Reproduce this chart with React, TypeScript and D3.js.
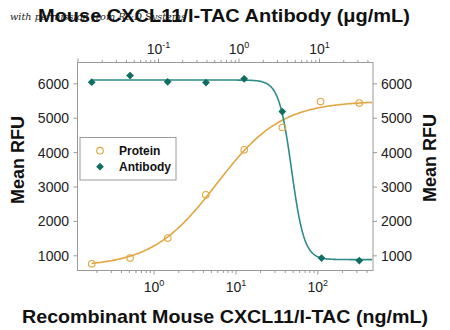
import React from "react";
import * as d3 from "d3";

// ---- data ----
const proteinConc = [0.173, 0.509, 1.47, 4.28, 12.6, 36.9, 108, 321]; // ng/mL
const proteinRFU = [767, 933, 1515, 2773, 4081, 4730, 5485, 5439];
const antibodyConc = [0.0148, 0.0443, 0.13, 0.389, 1.16, 3.45, 10.6, 31.2]; // µg/mL
const antibodyRFU = [6049, 6241, 6058, 6038, 6145, 5195, 933, 863];
// 4PL fit parameters (low = low-conc asymptote)
const proteinFit = { low: 680, high: 5500, ec50: 5.8, hill: 1.1 };
const antibodyFit = { low: 6110, high: 890, ec50: 4.5, hill: 5.5 };
const yTicks = [1000, 2000, 3000, 4000, 5000, 6000];
const bottomMajor = [0, 1, 2];
const topMajor = [-1, 0, 1];

const W = 450, H = 330;
const L = 77.5, R = 373, T = 62.5, B = 270.5;
const FONT = "Liberation Sans, Arial, sans-serif";
const ORANGE = "#E2A640";
const TEAL_LINE = "#2E8C88";
const TEAL_MARK = "#0F6E62";
const GRAY = "#9a9a9a";

function fourPL(p: { low: number; high: number; ec50: number; hill: number }, x: number) {
  return p.low + (p.high - p.low) / (1 + Math.pow(p.ec50 / x, p.hill));
}

function minorTicks(scale: d3.ScaleLogarithmic<number, number>) {
  const [a, b] = scale.domain();
  const out: number[] = [];
  for (let e = Math.floor(Math.log10(a)); e <= Math.ceil(Math.log10(b)); e++) {
    for (let m = 1; m <= 9; m++) {
      const v = m * Math.pow(10, e);
      if (v >= a && v <= b) out.push(v);
    }
  }
  return out;
}

export default function App() {
  const y = d3.scaleLinear().domain([573, 6620]).range([B, T]);
  const xb = d3.scaleLog().domain([0.116, 472]).range([L, R]);
  const xt = d3.scaleLog().domain([0.00986, 46.2]).range([L, R]);

  const pStart = xb(proteinConc[0]);
  const pCurveX = d3.range(0, 201).map((i) => xb.invert(pStart + ((R - 1 - pStart) * i) / 200));
  const pLine = d3
    .line<number>()
    .x((v) => xb(v))
    .y((v) => y(fourPL(proteinFit, v)))(pCurveX);
  const aStart = xt(antibodyConc[0]);
  const aCurveX = d3.range(0, 401).map((i) => xt.invert(aStart + ((R - 1 - aStart) * i) / 400));
  const aLine = d3
    .line<number>()
    .x((v) => xt(v))
    .y((v) => y(fourPL(antibodyFit, v)))(aCurveX);

  const diamond = d3.symbol().type(d3.symbolSquare).size(30)()!;

  const bMinor = minorTicks(xb);
  const tMinor = minorTicks(xt);

  return (
    <svg width={W} height={H} style={{ position: "absolute", left: 0, top: 0, background: "#fff" }}>
      <rect width={W} height={H} fill="#fff" />
      {/* watermark */}
      <text x={10} y={20} fontFamily="DejaVu Serif, serif" fontStyle="italic" fontSize={10}
        fill="#222" textLength={176} lengthAdjust="spacingAndGlyphs">
        with permission from R&amp;D Systems
      </text>
      {/* top title */}
      <text x={224} y={22} textAnchor="middle" fontFamily={FONT} fontWeight="bold" fontSize={19}
        fill="#111" textLength={372} lengthAdjust="spacingAndGlyphs">
        Mouse CXCL11/I-TAC Antibody (μg/mL)
      </text>
      {/* bottom title */}
      <text x={225} y={323} textAnchor="middle" fontFamily={FONT} fontWeight="bold" fontSize={18.5}
        fill="#111" textLength={406} lengthAdjust="spacingAndGlyphs">
        Recombinant Mouse CXCL11/I-TAC (ng/mL)
      </text>
      {/* y titles */}
      <text transform={`translate(24,160) rotate(-90)`} textAnchor="middle" fontFamily={FONT}
        fontWeight="bold" fontSize={18} fill="#111">
        Mean RFU
      </text>
      <text transform={`translate(436,158) rotate(-90)`} textAnchor="middle" fontFamily={FONT}
        fontWeight="bold" fontSize={18} fill="#111">
        Mean RFU
      </text>

      {/* frame */}
      <rect x={L} y={T} width={R - L} height={B - T} fill="none" stroke={GRAY} strokeWidth={1} />

      {/* y ticks left & right */}
      {yTicks.map((t) => (
        <g key={t}>
          <line x1={L - 4} x2={L} y1={y(t)} y2={y(t)} stroke={GRAY} />
          <line x1={R} x2={R + 4} y1={y(t)} y2={y(t)} stroke={GRAY} />
          <text x={69} y={y(t) + 5} textAnchor="end" fontFamily={FONT} fontSize={14} fill="#222">
            {t}
          </text>
          <text x={381} y={y(t) + 5} textAnchor="start" fontFamily={FONT} fontSize={14} fill="#222">
            {t}
          </text>
        </g>
      ))}

      {/* bottom log ticks */}
      {bMinor.map((v, i) => {
        const major = Math.abs(Math.log10(v) - Math.round(Math.log10(v))) < 1e-9;
        return <line key={"bm" + i} x1={xb(v)} x2={xb(v)} y1={B} y2={B + (major ? 4 : 2.5)} stroke={GRAY} />;
      })}
      {bottomMajor.map((e) => (
        <text key={"bl" + e} x={xb(Math.pow(10, e))} y={292} textAnchor="middle" fontFamily={FONT}
          fontSize={14} fill="#222">
          10<tspan dy={-6} fontSize={9}>{e}</tspan>
        </text>
      ))}

      {/* top log ticks */}
      {tMinor.map((v, i) => {
        const major = Math.abs(Math.log10(v) - Math.round(Math.log10(v))) < 1e-9;
        return <line key={"tm" + i} x1={xt(v)} x2={xt(v)} y1={T} y2={T - (major ? 4 : 2.5)} stroke={GRAY} />;
      })}
      {topMajor.map((e) => (
        <text key={"tl" + e} x={xt(Math.pow(10, e))} y={53.5} textAnchor="middle" fontFamily={FONT}
          fontSize={14} fill="#222">
          10<tspan dy={-6} fontSize={9}>{e}</tspan>
        </text>
      ))}

      {/* curves */}
      <path d={pLine ?? ""} fill="none" stroke={ORANGE} strokeWidth={1.6} />
      <path d={aLine ?? ""} fill="none" stroke={TEAL_LINE} strokeWidth={1.6} />

      {/* points */}
      {proteinConc.map((c, i) => (
        <circle key={"p" + i} cx={xb(c)} cy={y(proteinRFU[i])} r={3.3} fill="none"
          stroke={ORANGE} strokeWidth={1.1} />
      ))}
      {antibodyConc.map((c, i) => (
        <path key={"a" + i} d={diamond}
          transform={`translate(${xt(c)},${y(antibodyRFU[i])}) rotate(45)`} fill={TEAL_MARK} />
      ))}

      {/* legend */}
      <rect x={80} y={137.5} width={96} height={42.5} fill="#fff" stroke={GRAY} strokeWidth={1} />
      <circle cx={100} cy={150.7} r={3.3} fill="none" stroke={ORANGE} strokeWidth={1.1} />
      <text x={119} y={155} fontFamily={FONT} fontWeight="bold" fontSize={12} fill="#111">Protein</text>
      <path d={diamond} transform="translate(100,166.7) rotate(45)" fill={TEAL_MARK} />
      <text x={119} y={171} fontFamily={FONT} fontWeight="bold" fontSize={12} fill="#111">Antibody</text>
    </svg>
  );
}
